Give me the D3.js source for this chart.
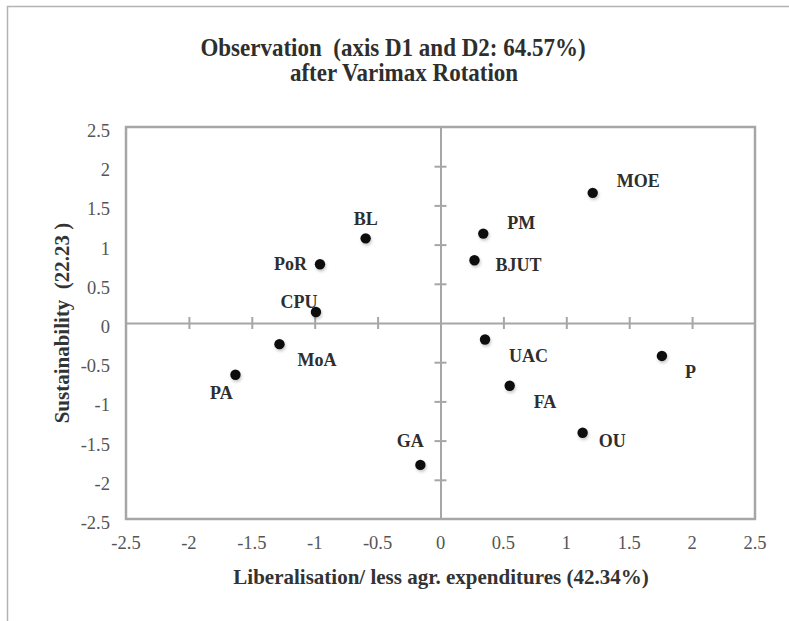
<!DOCTYPE html>
<html>
<head>
<meta charset="utf-8">
<script src="https://cdn.jsdelivr.net/npm/d3@7"></script>
<style>
  body { margin: 0; background: #fff; }
  svg { display: block; }
</style>
</head>
<body>
<svg id="chart"></svg>
<script>
// observation labels and their scores on the two rotated axes
const labels = ["BL", "PoR", "CPU", "MoA", "PA", "GA", "MOE", "PM", "BJUT", "UAC", "P", "FA", "OU"];
const d1 = [-0.595, -0.958, -0.99, -1.28, -1.63, -0.16, 1.21, 0.34, 0.27, 0.354, 1.76, 0.55, 1.13];
const d2 = [1.08, 0.75, 0.14, -0.27, -0.66, -1.81, 1.66, 1.14, 0.80, -0.21, -0.42, -0.80, -1.40];
const tickValues = [-2.5, -2, -1.5, -1, -0.5, 0, 0.5, 1, 1.5, 2, 2.5];

// label offsets (pixels, to baseline) and anchor per point
const labelPos = {
    BL:   { dx: 0,   dy: -13, anchor: "middle" },
    PoR:  { dx: -13, dy: 6,   anchor: "end" },
    CPU:  { dx: -17, dy: -4,  anchor: "middle" },
    MoA:  { dx: 18,  dy: 22,  anchor: "start" },
    PA:   { dx: -14, dy: 24,  anchor: "middle" },
    GA:   { dx: -10, dy: -18, anchor: "middle" },
    MOE:  { dx: 24,  dy: -6,  anchor: "start" },
    PM:   { dx: 24,  dy: -5,  anchor: "start" },
    BJUT: { dx: 21,  dy: 11,  anchor: "start" },
    UAC:  { dx: 24,  dy: 23,  anchor: "start" },
    P:    { dx: 23,  dy: 22,  anchor: "start" },
    FA:   { dx: 24,  dy: 22,  anchor: "start" },
    OU:   { dx: 16,  dy: 14,  anchor: "start" }
};

const width = 789, height = 621;
const margin = { left: 126, right: 34, top: 127, bottom: 102 };
const axisColor = "#a6a6a6";
const serif = "'Liberation Serif', 'Times New Roman', serif";

const svg = d3.select("svg#chart")
    .attr("width", width)
    .attr("height", height);

// outer chart frame (right and bottom edges fall outside the picture)
svg.append("rect")
    .attr("x", 7.5).attr("y", 6.5)
    .attr("width", width + 20).attr("height", height + 20)
    .attr("fill", "#fff")
    .attr("stroke", "#b3b3b3")
    .attr("stroke-width", 1.5);

const x = d3.scaleLinear().domain([-2.5, 2.5]).range([margin.left, width - margin.right]);
const y = d3.scaleLinear().domain([-2.5, 2.5]).range([height - margin.bottom, margin.top]);

// title, slightly stretched vertically like the original
const titleLines = [
    { text: "Observation  (axis D1 and D2: 64.57%)", cx: 393, base: 56 },
    { text: "after Varimax Rotation", cx: 404, base: 81 }
];
svg.append("g")
    .selectAll("text")
    .data(titleLines)
    .join("text")
    .attr("transform", d => `translate(${d.cx},${d.base}) scale(1,1.05)`)
    .attr("text-anchor", "middle")
    .attr("xml:space", "preserve")
    .attr("font-family", serif)
    .attr("font-weight", "bold")
    .attr("font-size", 23)
    .attr("fill", "#2e2e2e")
    .text(d => d.text);

// plot area border
svg.append("rect")
    .attr("x", x(-2.5)).attr("y", y(2.5))
    .attr("width", x(2.5) - x(-2.5)).attr("height", y(-2.5) - y(2.5))
    .attr("fill", "none")
    .attr("stroke", axisColor)
    .attr("stroke-width", 2.5);

// tick labels along the outside
svg.append("g")
    .selectAll("text")
    .data(tickValues)
    .join("text")
    .attr("x", d => x(d))
    .attr("y", height - margin.bottom + 30)
    .attr("text-anchor", "middle")
    .attr("font-family", serif)
    .attr("font-size", 18.5)
    .attr("fill", "#555")
    .text(d => d);

svg.append("g")
    .selectAll("text")
    .data(tickValues)
    .join("text")
    .attr("x", 110)
    .attr("y", d => y(d) + 10)
    .attr("text-anchor", "end")
    .attr("font-family", serif)
    .attr("font-size", 18.5)
    .attr("fill", "#555")
    .text(d => d);

// zero axes with crossing ticks
const inner = tickValues.filter(d => Math.abs(d) < 2.5 && d !== 0);
const xAxis = d3.axisBottom(x).tickValues(inner).tickSizeInner(0).tickSizeOuter(0).tickFormat("");
const gx = svg.append("g").attr("transform", `translate(0,${y(0)})`).call(xAxis);
gx.select(".domain").attr("stroke", axisColor).attr("stroke-width", 2);
gx.selectAll(".tick line").attr("y1", -6).attr("y2", 6).attr("stroke", axisColor).attr("stroke-width", 2);

const yAxis = d3.axisLeft(y).tickValues(inner).tickSizeInner(0).tickSizeOuter(0).tickFormat("");
const gy = svg.append("g").attr("transform", `translate(${x(0)},0)`).call(yAxis);
gy.select(".domain").attr("stroke", axisColor).attr("stroke-width", 2);
gy.selectAll(".tick line").attr("x1", -6).attr("x2", 6).attr("stroke", axisColor).attr("stroke-width", 2);

// axis titles
svg.append("text")
    .attr("x", 441)
    .attr("y", height - margin.bottom + 65)
    .attr("text-anchor", "middle")
    .attr("font-family", serif)
    .attr("font-weight", "bold")
    .attr("font-size", 21)
    .attr("fill", "#333")
    .text("Liberalisation/ less agr. expenditures (42.34%)");

svg.append("text")
    .attr("transform", `translate(69,${y(0)}) rotate(-90)`)
    .attr("text-anchor", "middle")
    .attr("xml:space", "preserve")
    .attr("font-family", serif)
    .attr("font-weight", "bold")
    .attr("font-size", 21)
    .attr("fill", "#333")
    .text("Sustainability  (22.23 )");

// points
const data = labels.map((name, i) => ({ name, d1: d1[i], d2: d2[i] }));

const defs = svg.append("defs");
const shadow = defs.append("filter").attr("id", "shadow")
    .attr("x", "-50%").attr("y", "-50%").attr("width", "200%").attr("height", "200%");
shadow.append("feDropShadow")
    .attr("dx", 1).attr("dy", 2).attr("stdDeviation", 1.5)
    .attr("flood-color", "#000").attr("flood-opacity", 0.22);

const g = svg.append("g")
    .selectAll("g")
    .data(data)
    .join("g")
    .attr("transform", d => "translate(" + x(d.d1) + "," + y(d.d2) + ")");

g.append("circle")
    .attr("r", 5.2)
    .attr("fill", "#111")
    .attr("filter", "url(#shadow)");

g.append("text")
    .attr("x", d => labelPos[d.name].dx)
    .attr("y", d => labelPos[d.name].dy)
    .attr("text-anchor", d => labelPos[d.name].anchor)
    .attr("font-family", serif)
    .attr("font-weight", "bold")
    .attr("font-size", 18)
    .attr("fill", "#2e2e2e")
    .text(d => d.name);
</script>
</body>
</html>
